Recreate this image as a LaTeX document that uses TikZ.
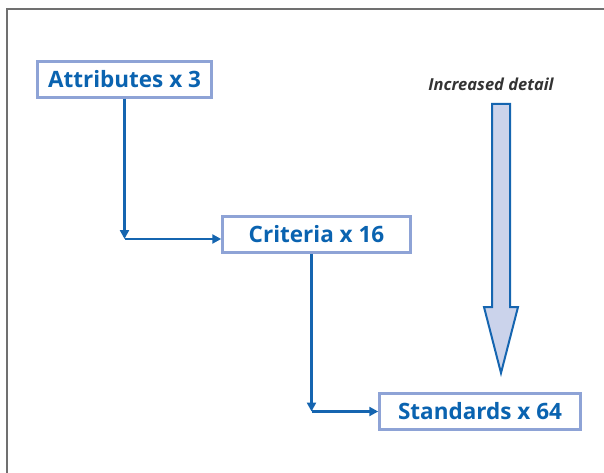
\documentclass[tikz,border=0pt]{standalone}
\usepackage{fontspec}
\setmainfont{Open Sans}
\usetikzlibrary{arrows.meta}
\definecolor{boxline}{HTML}{8EA3D6}
\definecolor{textblue}{HTML}{0A63B0}
\definecolor{linkblue}{HTML}{1565B0}
\definecolor{arrowfill}{HTML}{CBD3EB}
\definecolor{framegray}{HTML}{707070}
\definecolor{labelgray}{HTML}{333333}

\begin{document}
\begin{tikzpicture}[x=1pt,y=-1pt,
   level/.style={draw=boxline, line width=2.5pt, fill=white, text=textblue,
                 font=\bfseries\fontsize{22.5}{26}\selectfont, inner sep=0pt},
   link/.style={draw=linkblue, line width=2.6pt, -{Triangle[length=9pt,width=9pt]}}]

   \useasboundingbox (0,0) rectangle (604,473);

   % frame
   \draw[framegray, line width=2pt] (7,473) -- (7,9.5) -- (604,9.5);

   % levels
   \node[level, minimum width=174pt, minimum height=36pt] (attr) at (124.5,79.5) {Attributes x 3};
   \node[level, minimum width=188pt, minimum height=36pt] (crit) at (316.5,234.5) {Criteria x 16};
   \node[level, minimum width=201pt, minimum height=36pt] (std)  at (480,411.5) {Standards x 64};

   % connectors
   \coordinate (bend1) at (attr.south |- 0,239);
   \coordinate (bend2) at ([xshift=-5pt]crit.south |- 0,411.5);
   \draw[link] (attr.south) -- (bend1);
   \draw[link] (bend1) -- (bend1 -| crit.west);
   \draw[link] (bend2 |- crit.south) -- (bend2);
   \draw[link] (bend2) -- (std.west);

   % increased detail
   \node[text=labelgray, font=\bfseries\itshape\fontsize{16.5}{19}\selectfont] (detail) at (491,84) {Increased detail};
   \filldraw[fill=arrowfill, draw=linkblue, line width=2pt, miter limit=20]
      (492,104) -- (510,104) -- (510,307) -- (518,307) -- (501,373) -- (484,307) -- (492,307) -- cycle;

\end{tikzpicture}
\end{document}
